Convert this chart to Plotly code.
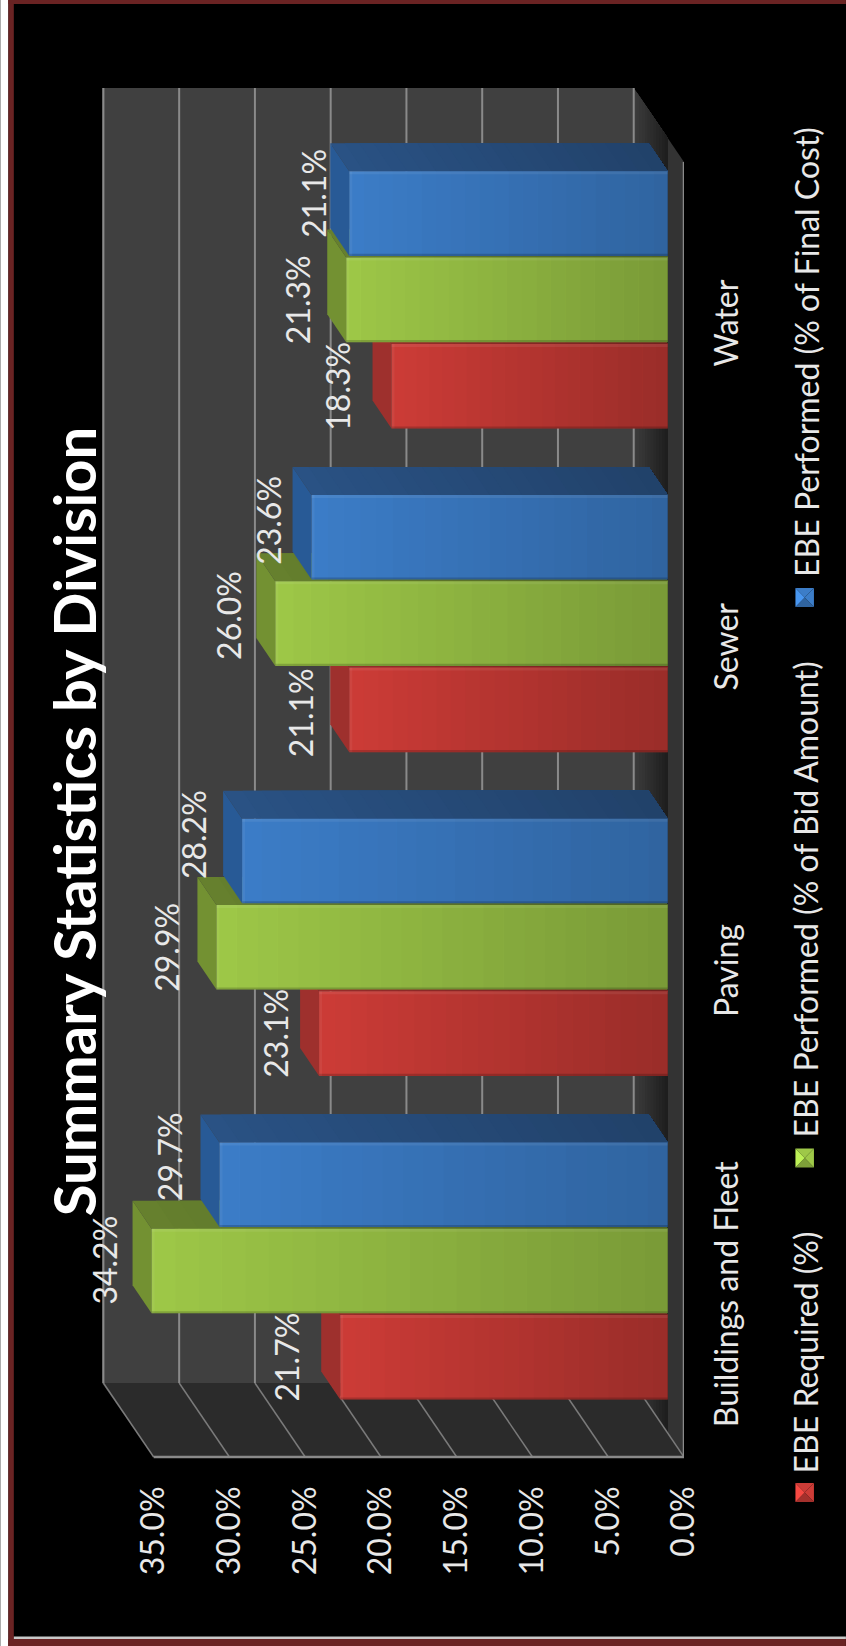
import plotly.graph_objects as go

# ---- data ----
categories = ["Buildings and Fleet", "Paving", "Sewer", "Water"]
ebe_required = [21.7, 23.1, 21.1, 18.3]
ebe_bid = [34.2, 29.9, 26.0, 21.3]
ebe_final = [29.7, 28.2, 23.6, 21.1]
series_names = ["EBE Required (%)", "EBE Performed (% of Bid Amount)", "EBE Performed (% of Final Cost)"]
axis_ticks = [0, 5, 10, 15, 20, 25, 30, 35]

# ---- styling / layout ----
W, H = 846, 1646
L, R, T, B = 101.7, 684.0, 88.0, 1457.0      # plot frame in page pixels
FONT = "Lato"
TXT = "#e8e8e8"
front_rgb = [(205, 60, 55), (158, 200, 72), (60, 125, 200)]
side_rgb = [(158, 48, 45), (115, 145, 50), (40, 90, 150)]
top_rgb = [(150, 45, 42), (102, 128, 46), (42, 82, 132)]
fade = [0.25, 0.23, 0.20]
label_dx = [[-54, -43, -48, -54], [-48, -50, -47, -48], [-50, -48, -43, -36]]
label_dy = [[0, 0, 3, 0], [-11, 0, -8, 0], [-28, -26, -17, -20]]
legend_text_y = [1352.5, 899.5, 352.0]
legend_mark_y = [1492.5, 1158.0, 597.5]

PX = lambda x: (x - L) / (R - L)
PY = lambda y: (B - y) / (B - T)
rgb = lambda c: f"rgb({c[0]},{c[1]},{c[2]})"

front_scale = 15.16      # px per percent on the front plane
bar_scale = 15.1         # px per percent on the bar plane
bar_zero_px = 667.7
cat_step = 323.7
bar_cat0_px = 1271.0
tick_cat0_px = 1299.0
depth_x = 19 / bar_scale
depth_y = 28 / cat_step
slot = 0.8 / 3
half = slot * 0.98 / 2

shapes = []
annos = []

def poly(pts, color, xref="paper", yref="paper", layer="below", line=None):
    d = "M " + " L ".join(f"{x:.4f},{y:.4f}" for x, y in pts) + " Z"
    shapes.append(dict(type="path", path=d, xref=xref, yref=yref, layer=layer,
                       fillcolor=color, line=dict(width=0) if line is None else line))

def P(x, y):
    return (PX(x), PY(y))

# frame
poly([P(0, 0), P(846, 0), P(846, 1646), P(0, 1646)], "#000000")
poly([P(0, 0), P(8, 0), P(8, 1646), P(0, 1646)], "#ffffff")
poly([P(8, 0), P(13.5, 0), P(13.5, 1646), P(8, 1646)], "#6a2323")
poly([P(8, 0), P(846, 0), P(846, 4), P(8, 4)], "#6a2323")
poly([P(13.5, 1636.5), P(846, 1636.5), P(846, 1639), P(13.5, 1639)], "#c8c8c8")
poly([P(8, 1639), P(846, 1639), P(846, 1646), P(8, 1646)], "#6a2323")

# walls
WX, WB = 633.7, 1383.0
poly([P(L, T), P(WX, T), P(WX, WB), P(L, WB)], "#404040")
poly([P(L, WB), P(WX, WB), P(R, B), P(153.3, B)], "#2b2b2b")
poly([P(WX, T), P(R, 162), P(R, B), P(WX, WB)], "#333333")
steps = 12
sl = 74 / 50.3
x_end = WX + 34
for i in range(steps):
    a = WX + 34 * i / steps
    g = int(60 - 32 * i / steps)
    poly([P(a, T + (a - WX) * sl), P(x_end, T + 34 * sl),
          P(x_end, WB + 34 * sl), P(a, WB + (a - WX) * sl)], f"rgb({g},{g},{g})")

# gridlines, derived from the axis ticks
back_shift = 50.3 / front_scale
wall_bottom = PY(WB)
for v in axis_ticks:
    shapes.append(dict(type="line", xref="x", yref="paper", layer="below",
                       x0=v + back_shift, x1=v + back_shift, y0=wall_bottom, y1=1,
                       line=dict(color="#8a8a8a", width=2)))
    shapes.append(dict(type="line", xref="x", yref="paper", layer="below",
                       x0=v + back_shift, x1=v, y0=wall_bottom, y1=0,
                       line=dict(color="#7a7a7a", width=1.5)))
shapes.append(dict(type="line", xref="x", yref="paper", layer="below", x0=35, x1=0, y0=0, y1=0,
                   line=dict(color="#8a8a8a", width=2.5)))
shapes.append(dict(type="line", xref="x", yref="paper", layer="below", x0=0, x1=0, y0=0, y1=PY(162),
                   line=dict(color="#8a8a8a", width=2.5)))

# bars
all_series = [ebe_required, ebe_bid, ebe_final]
traces = []
N = 22
edge_y = 3 / cat_step
edge_x = 3 / bar_scale
for s, vals in enumerate(all_series):
    off = (s - 1) * slot
    traces.append(go.Bar(x=vals, y=list(range(len(categories))), orientation="h",
                         name=series_names[s], xaxis="x2", yaxis="y2",
                         marker=dict(color=rgb(front_rgb[s]), line=dict(width=0)),
                         hoverinfo="skip", showlegend=False))
    for c, v in enumerate(vals):
        yc = c + off
        yb, yt = yc - half, yc + half
        # side face (end cap of the bar)
        poly([(v, yb), (v + depth_x, yb + depth_y), (v + depth_x, yt + depth_y), (v, yt)],
             rgb(side_rgb[s]), "x2", "y2")
        # top face with gradient (each slice repaints the rest, so no seams)
        for i in range(N):
            a = v * (1 - i / N)
            k = 1 - fade[s] * i / N
            col = tuple(int(q * k) for q in top_rgb[s])
            poly([(a, yt), (a + depth_x, yt + depth_y), (depth_x, yt + depth_y), (0, yt)],
                 rgb(col), "x2", "y2")
        # front face gradient overlay
        for i in range(N):
            a, b = v * (1 - i / N), v * (1 - (i + 1) / N)
            alpha = fade[s] * (i + 0.5) / N
            shapes.append(dict(type="rect", xref="x2", yref="y2", layer="above",
                               x0=a, x1=b, y0=yb, y1=yt,
                               fillcolor=f"rgba(0,0,0,{alpha:.3f})", line=dict(width=0)))
        # bevel highlights
        shapes.append(dict(type="rect", xref="x2", yref="y2", layer="above", x0=v, x1=0,
                           y0=yt - edge_y, y1=yt, fillcolor="rgba(255,255,255,0.07)", line=dict(width=0)))
        shapes.append(dict(type="rect", xref="x2", yref="y2", layer="above", x0=v, x1=0,
                           y0=yb, y1=yb + edge_y * 0.7, fillcolor="rgba(0,0,0,0.18)", line=dict(width=0)))
        shapes.append(dict(type="rect", xref="x2", yref="y2", layer="above", x0=v, x1=v - edge_x,
                           y0=yb, y1=yt, fillcolor="rgba(255,255,255,0.05)", line=dict(width=0)))
        annos.append(dict(x=v, y=yc, xref="x2", yref="y2", text=f"{v:.1f}%", showarrow=False,
                          xanchor="center", yanchor="middle",
                          textangle=-90, xshift=label_dx[s][c], yshift=-label_dy[s][c],
                          font=dict(family=FONT, size=32, color=TXT)))

# title
annos.append(dict(x=PX(73), y=PY(821), xref="paper", yref="paper", text="<b>Summary Statistics by Division</b>",
                  xanchor="center", yanchor="middle",
                  showarrow=False, textangle=-90, font=dict(family=FONT, size=58, color="#ffffff")))

# hand-built legend (rotated with the chart)
for s, name in enumerate(series_names):
    annos.append(dict(x=PX(806), y=PY(legend_text_y[s]), xref="paper", yref="paper", text=name,
                      xanchor="center", yanchor="middle",
                      showarrow=False, textangle=-90, font=dict(family=FONT, size=32, color=TXT)))
    my = legend_mark_y[s]
    x0, x1, y0, y1 = 795.5, 814, my - 9.5, my + 9.5
    cx, cy = (x0 + x1) / 2, my
    base = front_rgb[s]
    light = tuple(min(255, int(q * 1.2)) for q in base)
    dark = tuple(int(q * 0.8) for q in base)
    poly([P(x0, y0), P(x1, y0), P(cx, cy)], rgb(base), layer="above")
    poly([P(x0, y1), P(x1, y1), P(cx, cy)], rgb(dark), layer="above")
    poly([P(x0, y0), P(x0, y1), P(cx, cy)], rgb(light), layer="above")
    poly([P(x1, y0), P(x1, y1), P(cx, cy)], rgb(base), layer="above")

# invisible trace so the tick axes (front plane) get drawn
traces.append(go.Scatter(x=[0], y=[0], mode="markers", marker=dict(opacity=0),
                         hoverinfo="skip", showlegend=False, xaxis="x", yaxis="y"))

fig = go.Figure(traces)
fig.update_layout(
    width=W, height=H, autosize=False,
    margin=dict(l=L, r=W - R, t=T, b=H - B, pad=0),
    paper_bgcolor="#000000", plot_bgcolor="rgba(0,0,0,0)",
    barmode="group", bargap=0.2, bargroupgap=0.02, showlegend=False,
    shapes=shapes, annotations=annos,
    xaxis=dict(range=[(R - L) / front_scale, 0], tickmode="array", tickvals=axis_ticks,
               ticktext=[f"{v:.1f}%" for v in axis_ticks], tickangle=-90, showgrid=False,
               zeroline=False, showline=False, ticks="", ticklabelstandoff=22,
               tickfont=dict(family=FONT, size=32, color=TXT), fixedrange=True),
    yaxis=dict(range=[(tick_cat0_px - B) / cat_step, (tick_cat0_px - T) / cat_step], side="right",
               tickmode="array", tickvals=list(range(len(categories))), ticktext=categories,
               tickangle=-90, showgrid=False, zeroline=False, showline=False, ticks="",
               ticklabelstandoff=21, tickfont=dict(family=FONT, size=32, color=TXT), fixedrange=True),
    xaxis2=dict(range=[(bar_zero_px - L) / bar_scale, (bar_zero_px - R) / bar_scale],
                overlaying="x", anchor="y2", visible=False, fixedrange=True),
    yaxis2=dict(range=[(bar_cat0_px - B) / cat_step, (bar_cat0_px - T) / cat_step],
                overlaying="y", anchor="x2", visible=False, fixedrange=True),
)
fig.write_html("out.html", config=dict(displayModeBar=False),
               post_script="document.body.style.margin='0';document.body.style.overflow='hidden';")
